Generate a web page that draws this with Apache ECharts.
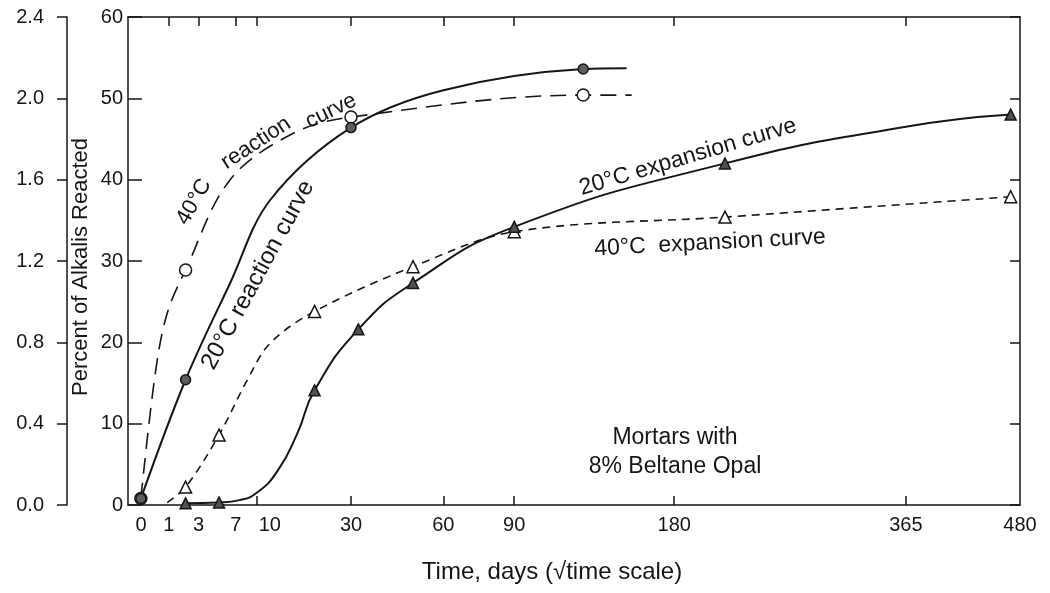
<!DOCTYPE html>
<html>
<head>
<meta charset="utf-8">
<script src="https://cdn.jsdelivr.net/npm/echarts@6/dist/echarts.min.js"></script>
<style>
    html, body { margin: 0; padding: 0; background: #fff; }
    #chart { width: 1050px; height: 593px; }
</style>
</head>
<body>
<div id="chart"></div>
<script>
    // time in days, values on the 0-60 expansion scale (2.4 % alkalis = 60)
    var rxn20Days = [0.1, 2, 30, 125];
    var rxn20Vals = [0.8, 15.4, 46.4, 53.6];
    var rxn20CurveDays = [6.3, 12.2, 60, 150];   // extra points
    var rxn20CurveVals = [27.3, 37.5, 51.0, 53.7];

    var rxn40Days = [0.1, 2, 30, 125];
    var rxn40Vals = [0.8, 28.9, 47.7, 50.4];
    var rxn40CurveDays = [0.45, 0.93, 6.3, 16.5, 153];
    var rxn40CurveVals = [16.2, 23.6, 40.0, 45.7, 50.4];

    var exp20Days = [2, 5, 21, 32, 49, 90, 215, 470];
    var exp20Vals = [0.2, 0.3, 14.1, 21.6, 27.3, 34.2, 42.0, 48.0];
    var exp20CurveDays = [7.5, 10, 13.5, 17.3, 365];
    var exp20CurveVals = [0.6, 1.5, 4.2, 8.8, 46.5];

    var exp40Days = [2, 5, 21, 49, 90, 215, 470];
    var exp40Vals = [2.2, 8.6, 23.8, 29.3, 33.6, 35.4, 37.9];
    var exp40CurveDays = [0.93, 8.6, 12.2];
    var exp40CurveVals = [0.3, 15.4, 19.9];

    var labelDays = [0, 1, 3, 7, 10, 30, 60, 90, 180, 365, 480];
    var bottomTickDays = [10, 30, 60, 90, 180, 365];
    var topTickDays = [1, 3, 7, 10, 30, 60, 90, 180, 365];

    var FONT = "'Liberation Sans', Arial, sans-serif";
    var INK = '#161616';
    var TICK_FONT = 20;

    function sq(d) { return Math.sqrt(d); }

    function marks(days, vals) {
        return days.map(function (d, i) { return [sq(d), vals[i]]; });
    }

    function curve(days, vals, moreDays, moreVals) {
        var pts = [];
        days.forEach(function (d, i) { pts.push([d, vals[i]]); });
        moreDays.forEach(function (d, i) { pts.push([d, moreVals[i]]); });
        pts.sort(function (a, b) { return a[0] - b[0]; });
        return pts.map(function (p) { return [sq(p[0]), p[1]]; });
    }

    function lineSeries(data, dash, width, smooth) {
        return {
            type: 'line',
            data: data,
            symbol: 'none',
            smooth: smooth,
            silent: true,
            lineStyle: { color: INK, width: width, type: dash }
        };
    }

    function markSeries(data, shape, size, fill) {
        return {
            type: 'scatter',
            data: data,
            symbol: shape,
            symbolSize: size,
            z: 5,
            silent: true,
            itemStyle: { color: fill, borderColor: INK, borderWidth: 1.5, opacity: 1 }
        };
    }

    function label(text, x, y, deg, size) {
        return {
            type: 'text', x: x, y: y, rotation: deg * Math.PI / 180,
            style: {
                text: text, font: size + 'px ' + FONT, fill: INK,
                align: 'center', verticalAlign: 'middle'
            }
        };
    }

    var chart = echarts.init(document.getElementById('chart'));

    var option = {
        backgroundColor: '#fff',
        animation: false,
        grid: { left: 128, right: 30, top: 17, bottom: 88 },
        xAxis: [
            {
                type: 'value',
                position: 'bottom',
                min: 0,
                max: sq(480),
                splitLine: { show: false },
                axisLine: { onZero: false, lineStyle: { color: INK, width: 1.5 } },
                axisTick: {
                    inside: true, length: 9,
                    lineStyle: { color: INK, width: 1.5 },
                    customValues: bottomTickDays.map(sq)
                },
                axisLabel: {
                    customValues: labelDays.map(sq),
                    formatter: function (v) {
                        var d = Math.round(v * v);
                        // the printed 0 and 10 sit a little right of their ticks
                        return (d === 0 || d === 10) ? '{r|' + d + '}' : String(d);
                    },
                    rich: { r: { padding: [0, 0, 0, 26], fontSize: TICK_FONT, fontFamily: FONT, color: INK } },
                    color: INK, fontSize: TICK_FONT, fontFamily: FONT, margin: 10
                }
            },
            {
                type: 'value',
                position: 'top',
                min: 0,
                max: sq(480),
                splitLine: { show: false },
                axisLine: { onZero: false, lineStyle: { color: INK, width: 1.5 } },
                axisTick: {
                    inside: true, length: 9,
                    lineStyle: { color: INK, width: 1.5 },
                    customValues: topTickDays.map(sq)
                },
                axisLabel: { show: false }
            }
        ],
        yAxis: [
            {
                type: 'value',
                position: 'left',
                min: 0, max: 60, interval: 10,
                splitLine: { show: false },
                axisLine: { show: true, onZero: false, lineStyle: { color: INK, width: 1.5 } },
                axisTick: { show: true, inside: true, length: 14, lineStyle: { color: INK, width: 1.5 } },
                axisLabel: { color: INK, fontSize: TICK_FONT, fontFamily: FONT, margin: 5 }
            },
            {
                type: 'value',
                position: 'left',
                offset: 61,
                min: 0, max: 2.4, interval: 0.4,
                splitLine: { show: false },
                axisLine: { show: true, onZero: false, lineStyle: { color: INK, width: 1.5 } },
                axisTick: { show: true, length: 10, lineStyle: { color: INK, width: 1.5 } },
                axisLabel: {
                    formatter: function (v) { return v.toFixed(1); },
                    color: INK, fontSize: TICK_FONT, fontFamily: FONT, margin: 23
                }
            },
            {
                type: 'value',
                position: 'right',
                min: 0, max: 60, interval: 10,
                splitLine: { show: false },
                axisLine: { show: true, onZero: false, lineStyle: { color: INK, width: 1.5 } },
                axisTick: { show: true, inside: true, length: 10, lineStyle: { color: INK, width: 1.5 } },
                axisLabel: { show: false }
            }
        ],
        series: [
            lineSeries(curve(rxn40Days, rxn40Vals, rxn40CurveDays, rxn40CurveVals), [16, 9], 1.6, 0.35),
            lineSeries(curve(rxn20Days, rxn20Vals, rxn20CurveDays, rxn20CurveVals), 'solid', 2, 0.35),
            lineSeries(curve(exp40Days, exp40Vals, exp40CurveDays, exp40CurveVals), [8, 6], 1.6, 0.35),
            lineSeries(curve(exp20Days, exp20Vals, exp20CurveDays, exp20CurveVals), 'solid', 2, 0.5),
            markSeries(marks(rxn40Days, rxn40Vals), 'circle', 12, '#fff'),
            markSeries(marks(rxn20Days, rxn20Vals), 'circle', 10, '#5e5e5e'),
            markSeries(marks(exp40Days, exp40Vals), 'triangle', 12, '#fff'),
            markSeries(marks(exp20Days, exp20Vals), 'triangle', 11, '#505050')
        ],
        graphic: [
            label('Percent of Alkalis Reacted', 81, 267, 90, 22),
            label('Time, days (\u221Atime scale)', 552, 572, 0, 24),
            label('Mortars with', 675, 438, 0, 23),
            label('8% Beltane Opal', 675, 467, 0, 23),
            label('20\u00B0C expansion curve', 688, 157, 16.5, 23),
            label('40\u00B0C  expansion curve', 710, 243, 3, 23),
            label('20\u00B0C reaction curve', 258, 275, 61.5, 24),
            label('40\u00B0C', 194, 202, 60, 22),
            label('reaction', 256, 143, 33, 22),
            label('curve', 331, 111, 26, 22)
        ]
    };

    chart.setOption(option);
</script>
</body>
</html>
